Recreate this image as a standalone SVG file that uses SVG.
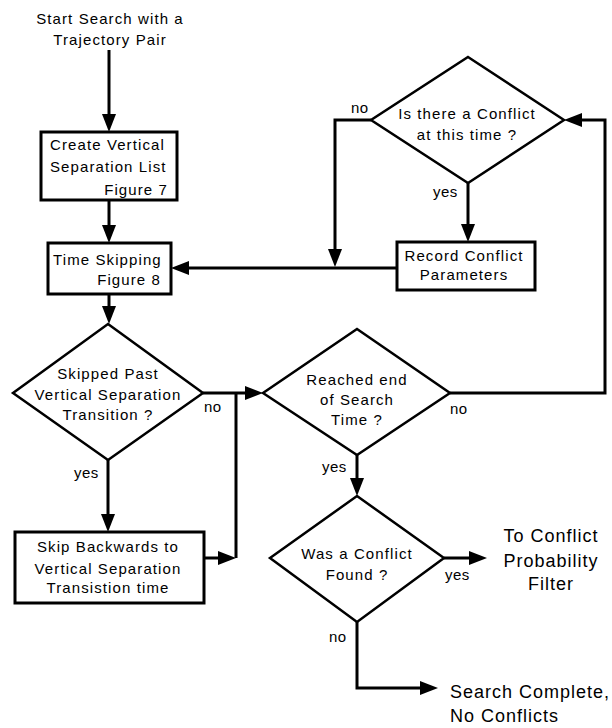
<svg xmlns="http://www.w3.org/2000/svg" width="612" height="728" viewBox="0 0 612 728">
<style>
  text { font-family: "Liberation Sans", Arial, sans-serif; font-size: 15px; letter-spacing: 1.1px; fill: #000; }
  .c { text-anchor: middle; }
  .e { text-anchor: end; }
  .lab { letter-spacing: 0.4px; }
  .big { font-size: 18px; letter-spacing: 1px; }
  .box { fill: #fff; stroke: #000; stroke-width: 3; }
  .dia { fill: #fff; stroke: #000; stroke-width: 2.5; stroke-linejoin: miter; }
  .ln { fill: none; stroke: #000; stroke-width: 3; stroke-linejoin: miter; }
  .ar { fill: none; stroke: #000; stroke-width: 3; stroke-linejoin: miter; marker-end: url(#ah); }
</style>
<defs>
  <marker id="ah" viewBox="0 0 18 14" markerWidth="18" markerHeight="14" refX="13" refY="7" orient="auto" markerUnits="userSpaceOnUse">
    <path d="M0,0 L18,7 L0,14 Z" fill="#000"/>
  </marker>
</defs>
<rect width="612" height="728" fill="#fff"/>

<g id="connectors">
  <path class="ar" d="M109,50 V127"/>
  <path class="ar" d="M109,200 V238"/>
  <path class="ar" d="M109,294 V319"/>
  <path class="ar" d="M203,393 H258"/>
  <path class="ar" d="M108,460 V527"/>
  <path class="ar" d="M204,558 H231"/>
  <path class="ln" d="M236,558 V393"/>
  <path class="ar" d="M450,393 H605 V120 H569"/>
  <path class="ar" d="M371,120 H335 V262"/>
  <path class="ar" d="M468,183 V237"/>
  <path class="ar" d="M397,268 H176"/>
  <path class="ar" d="M357,455 V491"/>
  <path class="ar" d="M444,558 H482"/>
  <path class="ar" d="M357,622 V688 H433"/>
</g>

<g id="start">
  <text class="c" x="110" y="24">Start Search with a</text>
  <text class="c" x="110" y="45">Trajectory Pair</text>
</g>

<g id="create-list">
  <rect class="box" x="41" y="132" width="136" height="68"/>
  <text x="50" y="150">Create Vertical</text>
  <text x="50" y="172">Separation List</text>
  <text class="e" x="168" y="195">Figure 7</text>
</g>

<g id="time-skipping">
  <rect class="box" x="48" y="243" width="123" height="51"/>
  <text x="53" y="265">Time Skipping</text>
  <text class="e" x="161" y="285">Figure 8</text>
</g>

<g id="skipped-past">
  <polygon class="dia" points="108,324 203,393 108,460 13,393"/>
  <text class="c" x="108" y="379">Skipped Past</text>
  <text class="c" x="108" y="400">Vertical Separation</text>
  <text class="c" x="108" y="420">Transition ?</text>
</g>

<g id="skip-backwards">
  <rect class="box" x="15" y="532" width="189" height="71"/>
  <text class="c" x="108" y="552">Skip Backwards to</text>
  <text class="c" x="108" y="574">Vertical Separation</text>
  <text class="c" x="108" y="593">Transistion time</text>
</g>

<g id="reached-end">
  <polygon class="dia" points="357,329 450,393 357,455 263,393"/>
  <text class="c" x="357" y="385">Reached end</text>
  <text class="c" x="357" y="405">of Search</text>
  <text class="c" x="357" y="425">Time ?</text>
</g>

<g id="conflict-at-time">
  <polygon class="dia" points="468,57 564,120 468,183 371,120"/>
  <text class="c" x="467" y="119">Is there a Conflict</text>
  <text class="c" x="467" y="140">at this time ?</text>
</g>

<g id="record-conflict">
  <rect class="box" x="397" y="242" width="138" height="48"/>
  <text class="c" x="464" y="261">Record Conflict</text>
  <text class="c" x="464" y="280">Parameters</text>
</g>

<g id="conflict-found">
  <polygon class="dia" points="357,496 444,558 357,622 270,558"/>
  <text class="c" x="357" y="559">Was a Conflict</text>
  <text class="c" x="357" y="580">Found ?</text>
</g>

<g id="to-filter">
  <text class="c big" x="551" y="542">To Conflict</text>
  <text class="c big" x="551" y="567">Probability</text>
  <text class="c big" x="551" y="590">Filter</text>
</g>

<g id="search-complete">
  <text class="big" x="450" y="698">Search Complete,</text>
  <text class="big" x="450" y="722">No Conflicts</text>
</g>

<g id="labels">
  <text class="lab" x="351" y="113">no</text>
  <text class="lab" x="433" y="197">yes</text>
  <text class="lab" x="204" y="412">no</text>
  <text class="lab" x="74" y="478">yes</text>
  <text class="lab" x="450" y="414">no</text>
  <text class="lab" x="322" y="472">yes</text>
  <text class="lab" x="445" y="580">yes</text>
  <text class="lab" x="329" y="642">no</text>
</g>
</svg>
